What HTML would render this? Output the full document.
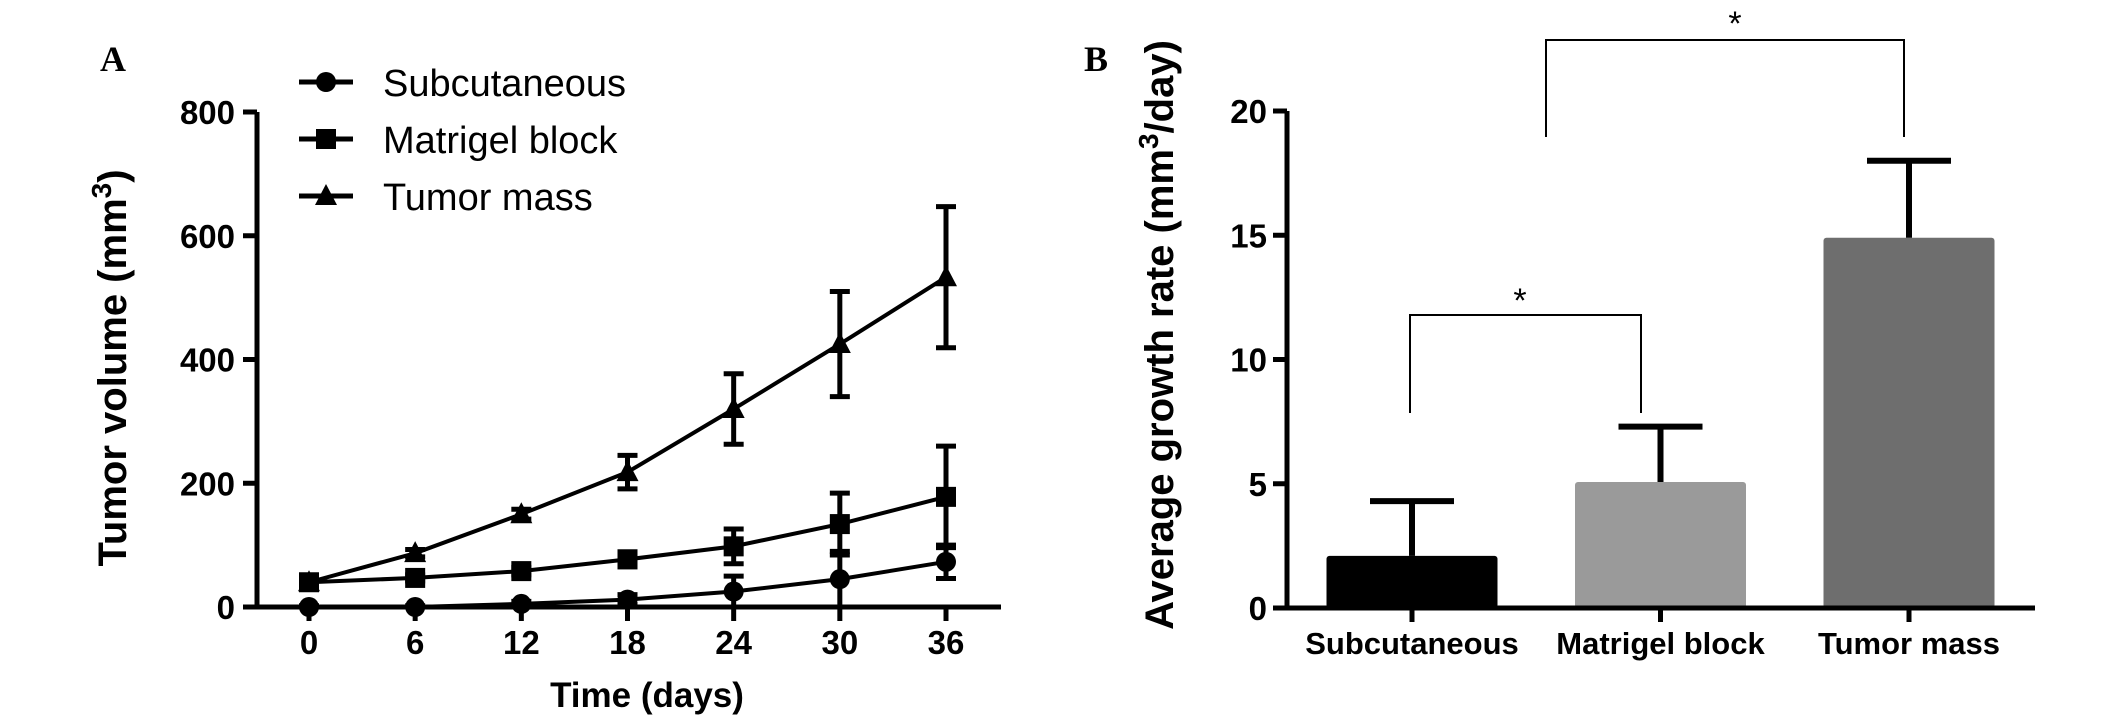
<!DOCTYPE html>
<html><head><meta charset="utf-8">
<style>
html,body{margin:0;padding:0;background:#fff;}
svg{display:block;}
text{font-family:"Liberation Sans",sans-serif;}
</style></head>
<body>
<svg id="fig" width="2126" height="723" viewBox="0 0 2126 723" xmlns="http://www.w3.org/2000/svg">
  <g id="panelA"></g>
  <g id="panelB"></g>
</svg>
<script>
// ---------- Panel A data ----------
const daysA = [0, 6, 12, 18, 24, 30, 36];
const yTicksA = [0, 200, 400, 600, 800];
const subcutaneous = [0, 0, 5, 12, 25, 45, 73];
const subcutaneousErr = [2, 2, 4, 8, 25, 45, 27];
const matrigel = [40, 47, 58, 77, 98, 134, 178];
const matrigelErr = [4, 5, 6, 12, 28, 50, 82];
const tumorMass = [40, 87, 150, 218, 320, 425, 533];
const tumorMassErr = [3, 6, 8, 27, 57, 85, 114];
const legendNames = ["Subcutaneous", "Matrigel block", "Tumor mass"];

// ---------- Panel B data ----------
const categoriesB = ["Subcutaneous", "Matrigel block", "Tumor mass"];
const growthRate = [2.1, 5.07, 14.9];
const growthErr = [2.2, 2.23, 3.1];
const yTicksB = [0, 5, 10, 15, 20];
const barColors = ["#000000", "#9a9a9a", "#6e6e6e"];

const NS = "http://www.w3.org/2000/svg";
function mk(parent, tag, attrs, txt) {
  const e = document.createElementNS(NS, tag);
  for (const k in attrs) e.setAttribute(k, attrs[k]);
  if (txt !== undefined) e.textContent = txt;
  parent.appendChild(e);
  return e;
}

// ---------- Panel A ----------
const A = document.getElementById('panelA');
const xA = d => 309 + (d - 0) * (946 - 309) / 36;
const yA = v => 607 - v * (607 - 112) / 800;

let t = mk(A, 'text', {x: 100, y: 71, style: 'font-family:"Liberation Serif",serif;font-weight:bold;font-size:36px'});
t.textContent = 'A';



// axes
let ax = mk(A, 'path', {d: `M257 ${yA(800)} V609 M255 607 H1001`, stroke: '#000', 'stroke-width': 5, fill: 'none'});


yTicksA.forEach(v => {
  const tk = mk(A, 'line', {x1: 243, x2: 257, y1: yA(v), y2: yA(v), stroke: '#000', 'stroke-width': 5});
  
  
  const lb = mk(A, 'text', {x: 235, y: yA(v) + 12, 'text-anchor': 'end', 'font-weight': 'bold', 'font-size': 33}, String(v));
  
  
});
daysA.forEach(d => {
  const tk = mk(A, 'line', {x1: xA(d), x2: xA(d), y1: 607, y2: 621, stroke: '#000', 'stroke-width': 5});
  
  
  const lb = mk(A, 'text', {x: xA(d), y: 654, 'text-anchor': 'middle', 'font-weight': 'bold', 'font-size': 33}, String(d));
  
  
});
let xt = mk(A, 'text', {x: 647, y: 707, 'text-anchor': 'middle', 'font-weight': 'bold', 'font-size': 35}, 'Time (days)');


let yt = mk(A, 'text', {x: 0, y: 0, 'text-anchor': 'middle', 'font-weight': 'bold', 'font-size': 40, transform: 'translate(126,368) rotate(-90)'});


yt.appendChild(document.createTextNode('Tumor volume (mm'));
mk(yt, 'tspan', {'font-size': 28, dy: -15}, '3');
mk(yt, 'tspan', {dy: 15}, ')');

function marker(g, kind, cx, cy, s) {
  let m;
  if (kind === 0) m = mk(g, 'circle', {cx, cy, r: s / 2, fill: '#000'});
  else if (kind === 1) m = mk(g, 'rect', {x: cx - s / 2, y: cy - s / 2, width: s, height: s, fill: '#000'});
  else m = mk(g, 'path', {d: `M${cx} ${cy - s * 0.6} L${cx + s * 0.55} ${cy + s * 0.45} L${cx - s * 0.55} ${cy + s * 0.45} Z`, fill: '#000'});
  return m;
}

const seriesA = [[subcutaneous, subcutaneousErr], [matrigel, matrigelErr], [tumorMass, tumorMassErr]];
const seriesNames = ['series-subcutaneous', 'series-matrigel-block', 'series-tumor-mass'];
seriesA.forEach((s, si) => {
  const g = mk(A, 'g', {});
  
  
  const vals = s[0], errs = s[1];
  vals.forEach((v, i) => {
    const x = xA(daysA[i]);
    const top = yA(v + errs[i]), bot = yA(Math.max(0, v - errs[i]));
    const eb = mk(g, 'path', {d: `M${x} ${top} V${bot} M${x - 10} ${top} H${x + 10} M${x - 10} ${bot} H${x + 10}`, stroke: '#000', 'stroke-width': 5, fill: 'none'});
    
    
  });
  const pts = vals.map((v, i) => `${xA(daysA[i])},${yA(v)}`).join(' ');
  const ln = mk(g, 'polyline', {points: pts, fill: 'none', stroke: '#000', 'stroke-width': 4});
  
  
  vals.forEach((v, i) => {
    const m = marker(g, si, xA(daysA[i]), yA(v), 20);
    
    
  });
});

// legend
const legRows = [82, 139, 196];
legendNames.forEach((n, i) => {
  const g = mk(A, 'g', {});
  
  
  mk(g, 'line', {x1: 299, x2: 353, y1: legRows[i], y2: legRows[i], stroke: '#000', 'stroke-width': 5});
  marker(g, i, 326, legRows[i], 20);
  mk(g, 'text', {x: 383, y: legRows[i] + 14, 'font-size': 38}, n);
});

// ---------- Panel B ----------
const B = document.getElementById('panelB');
const yB = v => 608 - v * (608 - 111) / 20;
const xB = i => 1412 + i * 248.5;
const barW = 171;

t = mk(B, 'text', {x: 1084, y: 71, style: 'font-family:"Liberation Serif",serif;font-weight:bold;font-size:36px'}, 'B');



categoriesB.forEach((c, i) => {
  const x = xB(i);
  const bar = mk(B, 'rect', {x: x - barW / 2, y: yB(growthRate[i]), width: barW, height: yB(0) - yB(growthRate[i]), fill: barColors[i], rx: 3});
  
  
  const top = yB(growthRate[i] + growthErr[i]);
  const eb = mk(B, 'path', {d: `M${x} ${yB(growthRate[i])} V${top} M${x - 42} ${top} H${x + 42}`, stroke: '#000', 'stroke-width': 6, fill: 'none'});
  
  
  const tk = mk(B, 'line', {x1: x, x2: x, y1: 608, y2: 622, stroke: '#000', 'stroke-width': 5});
  
  
  const lb = mk(B, 'text', {x: x, y: 654, 'text-anchor': 'middle', 'font-weight': 'bold', 'font-size': 31}, c);
  
  
});

ax = mk(B, 'path', {d: `M1287 ${yB(20)} V610 M1285 608 H2035`, stroke: '#000', 'stroke-width': 5, fill: 'none'});


yTicksB.forEach(v => {
  const tk = mk(B, 'line', {x1: 1273, x2: 1287, y1: yB(v), y2: yB(v), stroke: '#000', 'stroke-width': 5});
  
  
  const lb = mk(B, 'text', {x: 1267, y: yB(v) + 12, 'text-anchor': 'end', 'font-weight': 'bold', 'font-size': 33}, String(v));
  
  
});
yt = mk(B, 'text', {x: 0, y: 0, 'text-anchor': 'middle', 'font-weight': 'bold', 'font-size': 40, transform: 'translate(1173,335) rotate(-90)'});


yt.appendChild(document.createTextNode('Average growth rate (mm'));
mk(yt, 'tspan', {'font-size': 28, dy: -15}, '3');
mk(yt, 'tspan', {dy: 15}, '/day)');

// significance brackets
let br = mk(B, 'path', {d: 'M1410 413 V315 H1641 V413', stroke: '#000', 'stroke-width': 2, fill: 'none'});


let st = mk(B, 'text', {x: 1520, y: 312, 'text-anchor': 'middle', 'font-size': 34}, '*');


br = mk(B, 'path', {d: 'M1546 137 V40 H1904 V137', stroke: '#000', 'stroke-width': 2, fill: 'none'});


st = mk(B, 'text', {x: 1735, y: 35, 'text-anchor': 'middle', 'font-size': 34}, '*');


</script>
</body></html>
